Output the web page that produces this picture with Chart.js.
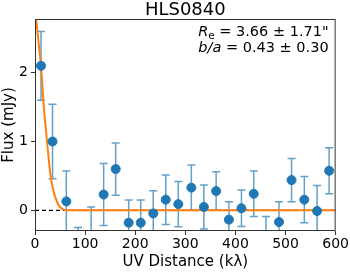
<!DOCTYPE html>
<html>
<head>
<meta charset="utf-8">
<script src="https://cdn.jsdelivr.net/npm/chart.js@4"></script>
<style>
  html, body { margin: 0; padding: 0; background: #fff; }
  #wrap { width: 350px; height: 273px; }
</style>
</head>
<body>
<div id="wrap"><canvas id="uvChart"></canvas></div>
<script>
// measured visibilities (kλ, mJy) and 1-sigma errors
var uvDist = [12, 35, 62.5, 86, 112, 137, 161, 187, 211, 236, 261, 286,
              312, 337, 361.5, 387, 412, 436.5, 461, 487, 512, 537.5, 563, 587];
var flux = [2.10, 1.00, 0.13, -0.70, -0.40, 0.23, 0.60, -0.18, -0.18, -0.045, 0.155, 0.09,
            0.33, 0.05, 0.28, -0.135, 0.03, 0.24, -0.40, -0.17, 0.44, 0.155, -0.01, 0.575];
var fluxErr = [0.50, 0.54, 0.44, 0.45, 0.45, 0.45, 0.38, 0.33, 0.33, 0.33, 0.36, 0.33,
               0.33, 0.32, 0.28, 0.26, 0.265, 0.33, 0.31, 0.295, 0.315, 0.335, 0.37, 0.335];

// model curve
var modelUV = [0, 2, 4, 6, 8, 10, 12, 14, 16, 18, 20, 22, 24, 26, 28, 30, 32, 34, 36, 38,
               40, 43, 46, 50, 55, 60, 66, 75, 600];
var modelFlux = [2.95, 2.80, 2.65, 2.52, 2.38, 2.25, 2.10, 1.89, 1.67, 1.46, 1.30, 1.15, 1.00,
                 0.85, 0.70, 0.56, 0.46, 0.38, 0.31, 0.25, 0.20, 0.14, 0.09, 0.045, 0.018,
                 0.006, 0.001, 0, 0];

var xTicks = [0, 100, 200, 300, 400, 500, 600];
var yTicks = [0, 1, 2];

var FONT = "'DejaVu Sans', sans-serif";
var blue = "#1f77b4";
var orange = "#ff7f0e";

function pts(xs, ys) {
    return xs.map(function(x, i) { return { x: x, y: ys[i] }; });
}

var errorBars = {
    id: "errorBars",
    beforeDatasetsDraw: function(chart) {
        var c = chart.ctx, xs = chart.scales.x, ys = chart.scales.y, a = chart.chartArea;
        c.save();
        c.beginPath();
        c.rect(a.left, a.top, a.right - a.left, a.bottom - a.top);
        c.clip();
        c.strokeStyle = "rgba(31,119,180,0.7)";
        c.lineWidth = 1.5;
        uvDist.forEach(function(u, i) {
            var px = xs.getPixelForValue(u);
            var top = ys.getPixelForValue(flux[i] + fluxErr[i]);
            var bot = ys.getPixelForValue(flux[i] - fluxErr[i]);
            c.beginPath();
            c.moveTo(px, top); c.lineTo(px, bot);
            c.moveTo(px - 4, top); c.lineTo(px + 4, top);
            c.moveTo(px - 4, bot); c.lineTo(px + 4, bot);
            c.stroke();
        });
        c.restore();
    },
    afterDraw: function(chart) {
        var c = chart.ctx, a = chart.chartArea;
        c.save();
        // frame
        c.strokeStyle = "#333";
        c.lineWidth = 1;
        c.strokeRect(a.left + 0.5, a.top + 0.5, a.right - a.left - 1, a.bottom - a.top - 1);
        // title
        c.fillStyle = "#000";
        c.font = "18px " + FONT;
        c.textAlign = "center";
        c.textBaseline = "alphabetic";
        c.fillText("HLS0840", (a.left + a.right) / 2, 14.5);
        // annotation, drawn right to left
        var right = a.right - 7;
        function piece(txt, font, x, y) {
            c.font = font;
            var w = c.measureText(txt).width;
            c.textAlign = "left";
            c.fillText(txt, x - w, y);
            return x - w;
        }
        var x = right;
        x = piece(" = 3.66 \u00b1 1.71\"", "14.5px " + FONT, x, 36);
        x = piece("e", "10.5px " + FONT, x, 39);
        piece("R", "italic 14.5px " + FONT, x, 36);
        x = right;
        x = piece(" = 0.43 \u00b1 0.30", "14.5px " + FONT, x, 52);
        piece("b/a", "italic 14.5px " + FONT, x, 52);
        c.restore();
    }
};

new Chart(document.getElementById("uvChart"), {
    type: "scatter",
    data: {
        datasets: [{
            label: "data",
            data: pts(uvDist, flux),
            backgroundColor: blue,
            borderColor: blue,
            pointRadius: 4.5,
            pointHoverRadius: 4.5,
            order: 1
        }, {
            label: "model",
            type: "line",
            data: pts(modelUV, modelFlux),
            borderColor: orange,
            borderWidth: 2,
            pointRadius: 0,
            fill: false,
            tension: 0,
            order: 2
        }, {
            label: "zero",
            type: "line",
            data: pts([0, 600], [0, 0]),
            borderColor: "#000",
            borderWidth: 1.2,
            borderDash: [4, 3],
            pointRadius: 0,
            fill: false,
            order: 3
        }]
    },
    options: {
        responsive: true,
        maintainAspectRatio: false,
        animation: false,
        layout: { padding: { left: 0, right: 14, top: 19, bottom: 0 } },
        scales: {
            x: {
                type: "linear",
                min: 0,
                max: 600,
                afterBuildTicks: function(s) { s.ticks = xTicks.map(function(v) { return { value: v }; }); },
                afterFit: function(s) { s.height = 42; },
                grid: { display: true, drawOnChartArea: false, tickLength: 4, color: "#333" },
                border: { display: false },
                ticks: { color: "#000", font: { family: FONT, size: 14 }, padding: 1, maxRotation: 0 },
                title: { display: true, text: "UV Distance (k\u03bb)", color: "#000",
                         font: { family: FONT, size: 15 }, padding: { top: 0, bottom: 2 } }
            },
            y: {
                type: "linear",
                min: -0.30,
                max: 2.78,
                afterBuildTicks: function(s) { s.ticks = yTicks.map(function(v) { return { value: v }; }); },
                afterFit: function(s) { s.width = 35; },
                grid: { display: true, drawOnChartArea: false, tickLength: 4, color: "#333" },
                border: { display: false },
                ticks: { color: "#000", font: { family: FONT, size: 14 }, padding: 3 },
                title: { display: true, text: "Flux (mJy)", color: "#000",
                         font: { family: FONT, size: 15 }, padding: { top: 0, bottom: 1 } }
            }
        },
        plugins: {
            legend: { display: false },
            tooltip: { enabled: false }
        }
    },
    plugins: [errorBars]
});
</script>
</body>
</html>
